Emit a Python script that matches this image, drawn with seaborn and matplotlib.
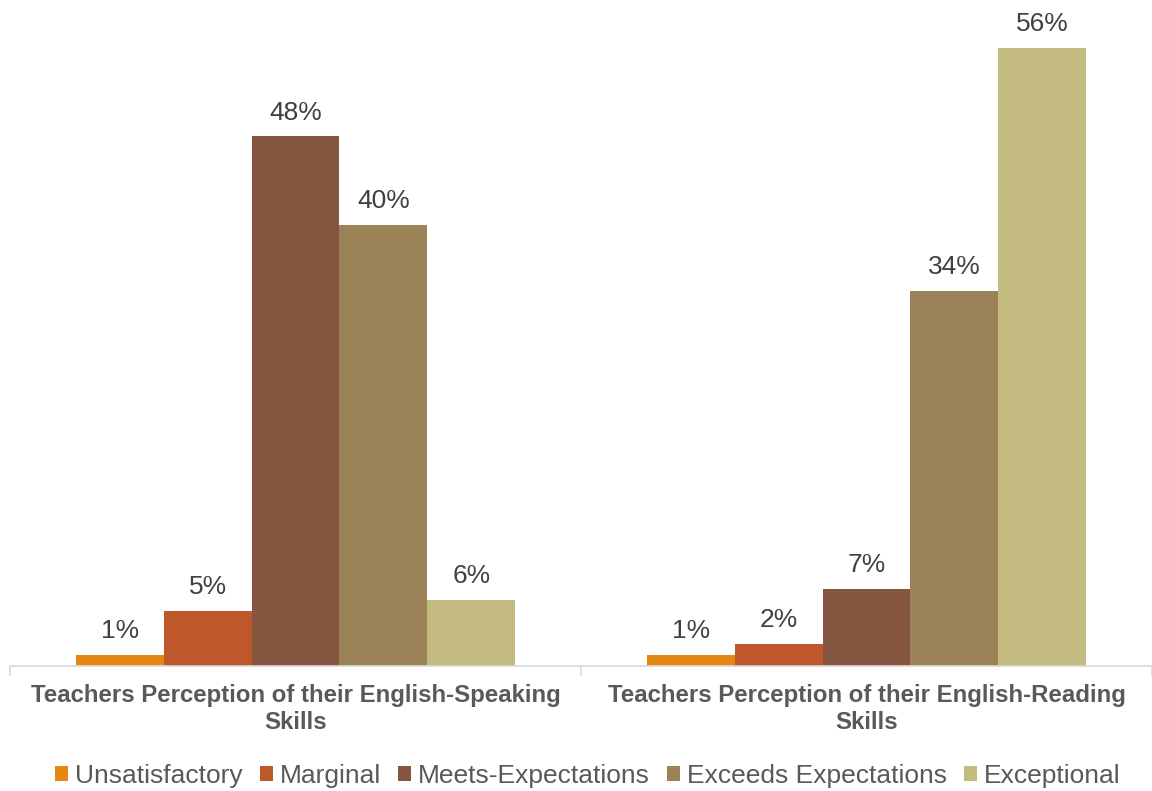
import matplotlib
matplotlib.use("Agg")
import matplotlib.pyplot as plt
from matplotlib.patches import Patch
import seaborn as sns
import pandas as pd

# Survey results (percent of teachers)
skills = ["Teachers Perception of their English-Speaking\nSkills",
          "Teachers Perception of their English-Reading\nSkills"]
ratings = ["Unsatisfactory", "Marginal", "Meets-Expectations",
           "Exceeds Expectations", "Exceptional"]
speaking = [1, 5, 48, 40, 6]
reading = [1, 2, 7, 34, 56]
colors = ["#E68613", "#BE582C", "#865540", "#9C8357", "#C3BB80"]

rows = []
for skill, vals in zip(skills, [speaking, reading]):
    for r, v in zip(ratings, vals):
        rows.append({"skill": skill, "rating": r, "pct": v})
df = pd.DataFrame(rows)

sns.set_theme(style="white")
plt.rcParams["font.family"] = ["Liberation Sans", "DejaVu Sans"]

W, H = 1152, 791
fig = plt.figure(figsize=(W / 100, H / 100), dpi=100)
ax = fig.add_axes([10 / W, 125 / H, 1142 / W, 662 / H])

sns.barplot(data=df, x="skill", y="pct", hue="rating", hue_order=ratings,
            palette=colors, width=0.77, saturation=1, linewidth=0,
            errorbar=None, ax=ax, legend=False)

ax.set_xlim(-0.5, 1.5)
ax.set_ylim(0, 60)
ax.set_xlabel("")
ax.set_ylabel("")
ax.set_yticks([])
for s in ["top", "right", "left"]:
    ax.spines[s].set_visible(False)
ax.spines["bottom"].set_color("#D9D9D9")
ax.spines["bottom"].set_linewidth(1.2)

# value labels
for cont in ax.containers:
    for bar in cont:
        h = bar.get_height()
        ax.annotate(f"{h:.0f}%", (bar.get_x() + bar.get_width() / 2, h),
                    xytext=(0, 12), textcoords="offset points",
                    ha="center", va="baseline", fontsize=19, color="#404040")

# category ticks
ax.set_xticks([0, 1])
ax.set_xticklabels(skills, fontsize=17.3, fontweight="bold", color="#595959",
                   linespacing=1.2)
ax.tick_params(axis="x", which="major", length=0, pad=13)
ax.set_xticks([-0.5, 0.5, 1.5], minor=True)
ax.tick_params(axis="x", which="minor", length=7, width=1.2, color="#D9D9D9",
               bottom=True)

handles = [Patch(facecolor=c, edgecolor="none", label=r) for r, c in zip(ratings, colors)]
fig.legend(handles=handles, loc="center", bbox_to_anchor=(0.5104, 15 / H),
           ncol=5, frameon=False, fontsize=19, handlelength=0.49, handleheight=0.49,
           handletextpad=0.27, columnspacing=0.64, labelcolor="#595959",
           borderaxespad=0, borderpad=0)

fig.savefig("out.png", dpi=100, facecolor="white")
